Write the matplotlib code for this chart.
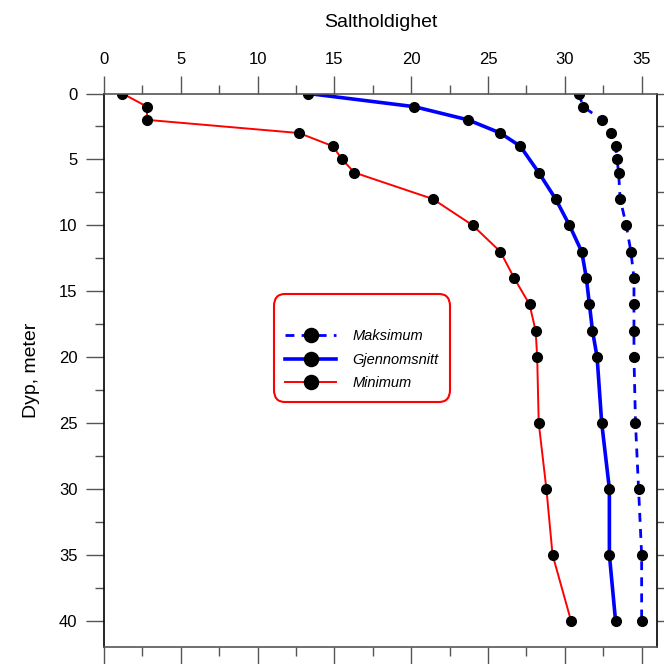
import matplotlib.pyplot as plt
from matplotlib.ticker import MultipleLocator

plt.rcParams['font.family'] = ['Liberation Sans', 'DejaVu Sans']

# dybder (meter)
dyp_maks = [0, 1, 2, 3, 4, 5, 6, 8, 10, 12, 14, 16, 18, 20, 25, 30, 35, 40]
dyp_snitt = [0, 1, 2, 3, 4, 6, 8, 10, 12, 14, 16, 18, 20, 25, 30, 35, 40]
dyp_min = [0, 1, 2, 3, 4, 5, 6, 8, 10, 12, 14, 16, 18, 20, 25, 30, 35, 40]

# saltholdighet
maksimum = [30.9, 31.2, 32.4, 33.0, 33.3, 33.4, 33.5, 33.6, 34.0, 34.3, 34.5, 34.5,
            34.5, 34.5, 34.6, 34.8, 35.0, 35.0]
gjennomsnitt = [13.3, 20.2, 23.7, 25.8, 27.1, 28.3, 29.4, 30.3, 31.1, 31.4, 31.6,
                31.8, 32.1, 32.4, 32.9, 32.9, 33.3]
minimum = [1.2, 2.8, 2.8, 12.7, 14.9, 15.5, 16.3, 21.4, 24.0, 25.8, 26.7, 27.7,
           28.1, 28.2, 28.3, 28.8, 29.2, 30.4]

fig = plt.figure(figsize=(6.64, 6.64), dpi=100)
ax = fig.add_axes([104 / 664, 1 - 647 / 664, 553 / 664, 553.5 / 664])

ax.plot(maksimum, dyp_maks, color='blue', lw=2, linestyle=(0, (3.2, 2.6)),
        marker='o', ms=7, mfc='black', mec='black', label='Maksimum')
ax.plot(gjennomsnitt, dyp_snitt, color='blue', lw=2.6, marker='o', ms=7,
        mfc='black', mec='black', label='Gjennomsnitt')
ax.plot(minimum, dyp_min, color='red', lw=1.4, marker='o', ms=7,
        mfc='black', mec='black', label='Minimum')

ax.set_xlim(0, 36)
ax.set_ylim(42, 0)

gray = '#555555'
ax.spines['top'].set_color(gray)
ax.spines['bottom'].set_color(gray)
ax.spines['left'].set_color('black')
ax.spines['right'].set_visible(False)
for s in ax.spines.values():
    s.set_linewidth(1.2)

ax.xaxis.set_major_locator(MultipleLocator(5))
ax.xaxis.set_minor_locator(MultipleLocator(2.5))
ax.yaxis.set_major_locator(MultipleLocator(5))
ax.yaxis.set_minor_locator(MultipleLocator(2.5))

ax.xaxis.tick_top()
ax.xaxis.set_label_position('top')
ax.tick_params(axis='x', which='both', top=True, bottom=True, labeltop=True,
               labelbottom=False, direction='out', color=gray, width=1)
ax.tick_params(axis='y', which='both', left=True, right=False, direction='out',
               color=gray, width=1)
ax.tick_params(which='major', length=13, labelsize=12, pad=6)
ax.tick_params(which='minor', length=6.5)

ax.set_xlabel('Saltholdighet', fontsize=14, labelpad=18)
ax.set_ylabel('Dyp, meter', fontsize=14, labelpad=14)

# høyre akse med korte streker
sec = ax.secondary_yaxis('right')
sec.yaxis.set_major_locator(MultipleLocator(2.5))
sec.tick_params(axis='y', direction='out', length=5, width=1, color=gray,
                labelright=False)
sec.spines['right'].set_linewidth(1.2)
sec.spines['right'].set_color('black')

leg = ax.legend(loc='center', bbox_to_anchor=(0.4665, 0.54), title=' ',
                prop={'style': 'italic', 'size': 10.5}, title_fontsize=10,
                handlelength=3.5, handletextpad=1.1, markerscale=1.45,
                fancybox=True, framealpha=1, borderpad=0.8, labelspacing=0.65)
leg.get_frame().set_edgecolor('red')
leg.get_frame().set_linewidth(1.5)
leg.get_frame().set_boxstyle('round', pad=0.0, rounding_size=0.8)

fig.savefig('out.png', dpi=100)
